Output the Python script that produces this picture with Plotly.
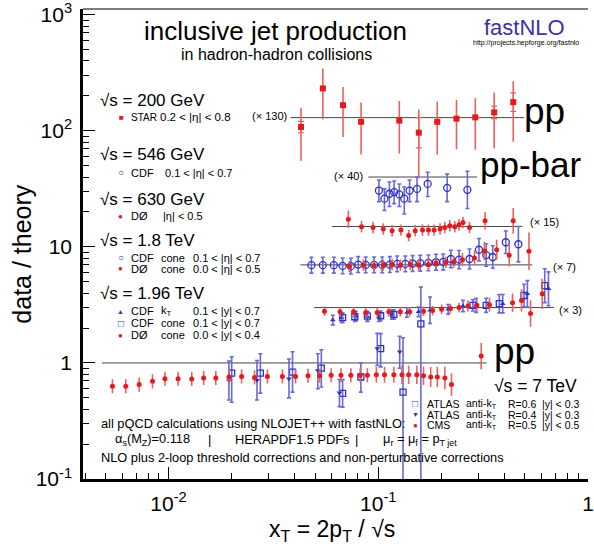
import plotly.graph_objects as go

FONT = "Liberation Sans, Arial, Helvetica, sans-serif"

# ---------------- data (ratio data/theory, unscaled) ----------------
# sqrt(s)=200 GeV STAR (x130)
STAR_x = [0.0428, 0.0544, 0.0679, 0.0828, 0.126, 0.156, 0.191, 0.236, 0.290, 0.357, 0.440]
STAR_r = [0.83, 1.785, 1.28, 0.92, 0.943, 0.742, 0.92, 0.98, 1.006, 1.11, 1.36]
STAR_lo = [0.424, 0.962, 0.681, 0.48, 0.49, 0.30, 0.48, 0.535, 0.53, 0.546, 0.62]
STAR_hi = [1.215, 2.65, 1.84, 1.35, 1.39, 1.17, 1.37, 1.42, 1.47, 1.65, 2.06]
STAR_inner = [1.12, 1.0, 1.0, 1.0, 1.0, 1.35, 1.0, 1.0, 1.0, 1.13, 1.2]

# sqrt(s)=546 GeV CDF (x40)
CDF546_x = [0.1007, 0.107, 0.113, 0.119, 0.126, 0.133, 0.141, 0.153, 0.172, 0.213, 0.266]
CDF546_r = [0.765, 0.651, 0.718, 0.742, 0.708, 0.651, 0.765, 0.79, 0.872, 0.807, 0.776]
CDF546_lo = [0.614, 0.515, 0.557, 0.59, 0.557, 0.48, 0.614, 0.614, 0.68, 0.614, 0.535]
CDF546_hi = [0.943, 0.79, 0.907, 0.925, 0.87, 0.82, 0.943, 1.0, 1.1, 1.06, 1.12]

# sqrt(s)=630 GeV D0 (x15)
D0630_x = [0.0720, 0.0832, 0.0944, 0.1056, 0.1164, 0.1283, 0.1396, 0.150, 0.1625, 0.1734,
           0.1845, 0.197, 0.2077, 0.2193, 0.2316, 0.2427, 0.2535, 0.2723, 0.323, 0.440]
D0630_r = [1.153, 0.995, 0.98, 0.95, 0.92, 0.93, 0.834, 0.92, 0.93, 0.93,
           0.93, 0.95, 0.98, 1.014, 0.995, 1.034, 1.081, 0.98, 1.118, 1.118]
D0630_e = [1.19, 1.12, 1.12, 1.12, 1.12, 1.12, 1.12, 1.12, 1.12, 1.12,
           1.12, 1.12, 1.12, 1.12, 1.12, 1.12, 1.12, 1.12, 1.19, 1.29]

# sqrt(s)=1.8 TeV CDF cone (x7)
CDF18_x = [0.0480, 0.0544, 0.0614, 0.0676, 0.0740, 0.0802, 0.0871, 0.0955, 0.1044, 0.1135,
           0.123, 0.1346, 0.1458, 0.1585, 0.1734, 0.1884, 0.204, 0.2218, 0.2427, 0.2723,
           0.302, 0.327, 0.3515, 0.4055, 0.4656]
CDF18_r = [0.994, 0.994, 0.994, 0.98, 0.975, 1.006, 1.0, 1.0, 1.0, 1.006,
           1.02, 1.02, 1.026, 1.034, 1.04, 1.054, 1.06, 1.124, 1.11, 1.124,
           1.35, 1.215, 1.169, 1.566, 1.506]
CDF18_e = [1.17, 1.17, 1.17, 1.17, 1.17, 1.17, 1.17, 1.17, 1.17, 1.17,
           1.17, 1.17, 1.17, 1.17, 1.17, 1.17, 1.17, 1.19, 1.2, 1.22,
           1.25, 1.25, 1.25, 1.25, 1.42]

# sqrt(s)=1.8 TeV D0 cone (x7)
D018_x = [0.0728, 0.0849, 0.0955, 0.1056, 0.1164, 0.1274, 0.142, 0.1556, 0.1734, 0.1884,
          0.21, 0.229, 0.252, 0.2877, 0.3206, 0.367, 0.421, 0.523]
D018_r = [0.967, 0.994, 0.986, 0.994, 1.006, 0.994, 1.006, 0.994, 1.006, 1.04,
          1.054, 1.06, 1.109, 1.146, 1.32, 1.35, 1.208, 1.31]
D018_e = [1.12, 1.12, 1.12, 1.12, 1.12, 1.12, 1.12, 1.12, 1.12, 1.12,
          1.12, 1.12, 1.14, 1.16, 1.2, 1.22, 1.25, 1.45]

# sqrt(s)=1.96 TeV D0 cone (x3)
D0196_x = [0.0554, 0.0657, 0.0762, 0.0871, 0.0989, 0.1122, 0.1274, 0.1412, 0.1643, 0.1816,
           0.2004, 0.2209, 0.2427, 0.2677, 0.2953, 0.339, 0.4367, 0.482, 0.532, 0.605]
D0196_r = [0.93, 0.92, 0.92, 0.907, 0.907, 0.92, 0.92, 0.92, 0.93, 0.943,
           0.967, 0.981, 1.0, 1.034, 1.046, 1.06, 1.102, 1.153, 0.889, 1.314]
D0196_e = [1.1, 1.1, 1.1, 1.1, 1.1, 1.1, 1.1, 1.1, 1.1, 1.1,
           1.1, 1.1, 1.1, 1.12, 1.12, 1.15, 1.2, 1.25, 1.3, 1.35]

# sqrt(s)=1.96 TeV CDF kT (x3)
CDFKT_x = [0.0607, 0.0669, 0.0781, 0.0887, 0.1007, 0.1164, 0.137, 0.1556, 0.1765, 0.2155,
           0.2535, 0.293, 0.392, 0.514, 0.648]
CDFKT_r = [0.78, 0.818, 0.844, 0.834, 0.834, 0.872, 0.907, 0.92, 0.949, 0.967,
           1.034, 1.046, 1.081, 1.314, 1.45]
CDFKT_e = [1.1, 1.1, 1.1, 1.1, 1.1, 1.1, 1.1, 1.1, 1.3, 1.1,
           1.12, 1.15, 1.2, 1.3, 1.4]

# sqrt(s)=1.96 TeV CDF cone (x3)
CDFC_x = [0.0676, 0.0773, 0.0887, 0.1026, 0.1186, 0.2826, 0.327, 0.3776, 0.4953, 0.622]
CDFC_r = [0.818, 0.834, 0.844, 0.85, 0.872, 1.046, 1.046, 1.081, 1.271, 1.545]
CDFC_e = [1.1, 1.1, 1.1, 1.1, 1.1, 1.12, 1.15, 1.2, 1.25, 1.4]

# sqrt(s)=7 TeV CMS anti-kT R=0.5 (x1)
CMS_x = [0.00540, 0.00625, 0.00724, 0.00838, 0.00961, 0.0111, 0.0129, 0.0147, 0.0168, 0.0194,
         0.0223, 0.0257, 0.0296, 0.0349, 0.0403, 0.0462, 0.0525, 0.0596, 0.0664, 0.0740,
         0.0820, 0.0887, 0.0979, 0.1071, 0.1186, 0.1297, 0.1396, 0.1527, 0.1643, 0.1778,
         0.1912, 0.2077, 0.2234, 0.3096]
CMS_r = [0.63, 0.63, 0.651, 0.694, 0.732, 0.732, 0.728, 0.742, 0.742, 0.757,
         0.765, 0.751, 0.765, 0.765, 0.765, 0.776, 0.776, 0.784, 0.784, 0.784,
         0.784, 0.784, 0.791, 0.791, 0.791, 0.791, 0.791, 0.791, 0.776, 0.757,
         0.757, 0.742, 0.651, 1.146]
CMS_e = [1.15, 1.15, 1.15, 1.15, 1.15, 1.15, 1.15, 1.15, 1.15, 1.15,
         1.15, 1.15, 1.15, 1.15, 1.15, 1.15, 1.15, 1.15, 1.15, 1.15,
         1.15, 1.15, 1.17, 1.17, 1.17, 1.2, 1.2, 1.2, 1.2, 1.22,
         1.22, 1.25, 1.25, 1.3]

# sqrt(s)=7 TeV ATLAS anti-kT R=0.6 (x1)
ATL6_x = [0.0200, 0.0274, 0.0390, 0.0535, 0.0676, 0.0826, 0.1026, 0.1312, 0.1596]
ATL6_r = [0.818, 0.818, 0.834, 0.902, 0.546, 0.757, 1.33, 0.56, 2.17]
ATL6_lo = [0.458, 0.55, 0.56, 0.62, 0.416, 0.56, 0.925, 0.05, 0.05]
ATL6_hi = [1.13, 1.2, 1.25, 1.3, 0.718, 1.0, 1.79, 1.65, 4.5]

# sqrt(s)=7 TeV ATLAS anti-kT R=0.4 (x1)
ATL4_x = [0.0194, 0.0264, 0.0375, 0.0515, 0.0653, 0.0989, 0.1265]
ATL4_r = [0.704, 0.708, 0.732, 0.86, 0.553, 1.33, 1.247]
ATL4_lo = [0.48, 0.48, 0.5, 0.6, 0.42, 0.95, 0.9]
ATL4_hi = [1.04, 1.05, 1.08, 1.2, 0.72, 1.8, 1.7]

# theory reference lines: scale factor and xT extent
LINE_F = [130, 40, 15, 7, 3, 1]
LINE_X0 = [0.0381, 0.0897, 0.0601, 0.0425, 0.0494, 0.00481]
LINE_X1 = [0.497, 0.296, 0.486, 0.542, 0.688, 0.329]

XTICK_VALS = [0.01, 0.1, 1]
XTICK_TEXT = ["10<sup>-2</sup>", "10<sup>-1</sup>", "1"]
YTICK_VALS = [0.1, 1, 10, 100, 1000]
YTICK_TEXT = ["10<sup>-1</sup>", "1", "10", "10<sup>2</sup>", "10<sup>3</sup>"]

RED = "rgb(228,26,28)"
RED_E = "rgb(238,95,95)"
BLUE = "rgb(50,50,190)"
BLUE_E = "rgb(105,105,215)"

fig = go.Figure()

# reference lines
for f, x0, x1 in zip(LINE_F, LINE_X0, LINE_X1):
    fig.add_trace(go.Scatter(x=[x0, x1], y=[f, f], mode="lines",
                             line=dict(color="rgb(70,70,70)", width=1), hoverinfo="skip"))


def series(x, r, lo, hi, factor, symbol, color, ecolor, size, lw=0, cap=0):
    y = [v * factor for v in r]
    up = [(h - v) * factor for h, v in zip(hi, r)]
    dn = [(v - l) * factor for v, l in zip(r, lo)]
    fig.add_trace(go.Scatter(
        x=x, y=y, mode="markers",
        marker=dict(symbol=symbol, color=color, size=size, line=dict(color=color, width=lw)),
        error_y=dict(type="data", symmetric=False, array=up, arrayminus=dn,
                     color=ecolor, thickness=1.6, width=cap)))


def series_e(x, r, e, factor, symbol, color, ecolor, size, lw=0, cap=0):
    lo = [v / k for v, k in zip(r, e)]
    hi = [v * k for v, k in zip(r, e)]
    series(x, r, lo, hi, factor, symbol, color, ecolor, size, lw, cap)


# STAR inner (statistical) error ticks
fig.add_trace(go.Scatter(
    x=STAR_x, y=[v * 130 for v in STAR_r], mode="markers",
    marker=dict(size=1, color="rgba(0,0,0,0)"),
    error_y=dict(type="data", symmetric=False,
                 array=[(v * k - v) * 130 for v, k in zip(STAR_r, STAR_inner)],
                 arrayminus=[(v - v / k) * 130 for v, k in zip(STAR_r, STAR_inner)],
                 color=RED_E, thickness=1.2, width=3)))

series(STAR_x, STAR_r, STAR_lo, STAR_hi, 130, "square", RED, RED_E, 6)
series(CDF546_x, CDF546_r, CDF546_lo, CDF546_hi, 40, "circle-open", BLUE, BLUE_E, 7, 1.3, 2)
series_e(D0630_x, D0630_r, D0630_e, 15, "circle", RED, RED_E, 5)
series_e(CDF18_x, CDF18_r, CDF18_e, 7, "circle-open", BLUE, BLUE_E, 7, 1.3, 2)
series_e(D018_x, D018_r, D018_e, 7, "circle", RED, RED_E, 5)
series_e(CDFKT_x, CDFKT_r, CDFKT_e, 3, "triangle-up", BLUE, BLUE_E, 5, 0, 2)
series_e(CDFC_x, CDFC_r, CDFC_e, 3, "square-open", BLUE, BLUE_E, 6, 1.3, 2)
series_e(D0196_x, D0196_r, D0196_e, 3, "circle", RED, RED_E, 5)
series(ATL6_x, ATL6_r, ATL6_lo, ATL6_hi, 1, "square-open", BLUE, BLUE_E, 6, 1.3, 2)
series(ATL4_x, ATL4_r, ATL4_lo, ATL4_hi, 1, "triangle-down", BLUE, BLUE_E, 5, 0, 2)
series_e(CMS_x, CMS_r, CMS_e, 1, "circle", RED, RED_E, 5)

# ---------------- layout ----------------
L, R, T, B = 83, 594, 5, 479


def A(text, px, py, size, xanchor="left", color="black", angle=0):
    fig.add_annotation(text=text, x=(px - L) / (R - L), y=(B - py) / (B - T),
                       xref="paper", yref="paper", xanchor=xanchor, yanchor="middle",
                       showarrow=False, textangle=angle,
                       font=dict(family=FONT, size=size, color=color))


A("inclusive jet production", 278, 27, 26, "center")
A("in hadron-hadron collisions", 279, 51, 16, "center")
A("fastNLO", 530, 24, 22, "center", color="rgb(60,50,165)")
A("http://projects.hepforge.org/fastnlo", 531, 39, 7, "center")

# left legend
A("√s = 200 GeV", 98, 97, 17)
A("■", 122, 114, 8, "center", RED)
A("STAR", 130, 114, 10)
A("0.2 < |η| < 0.8", 159, 114, 11.5)
A("(× 130)", 252, 113, 11)

A("√s = 546 GeV", 98, 152, 17)
A("○", 121, 170, 10, "center", BLUE)
A("CDF", 130, 170, 11)
A("0.1 < |η| < 0.7", 164, 170, 11)

A("√s = 630 GeV", 98, 197, 17)
A("●", 121, 214, 8, "center", RED)
A("DØ", 130, 214, 11)
A("|η| < 0.5", 162, 214, 11)

A("√s = 1.8 TeV", 98, 238, 17)
A("○", 121, 256, 10, "center", BLUE)
A("CDF", 130, 256, 11)
A("cone", 160, 256, 11)
A("0.1 < |η| < 0.7", 192, 256, 11)
A("●", 121, 267, 8, "center", RED)
A("DØ", 130, 267, 11)
A("cone", 160, 267, 11)
A("0.0 < |η| < 0.5", 192, 267, 11)

A("√s = 1.96 TeV", 98, 292, 17)
A("▲", 121, 310, 7, "center", BLUE)
A("CDF", 130, 310, 11)
A("k<sub>T</sub>", 160, 310, 11)
A("0.1 < |y| < 0.7", 192, 310, 11)
A("□", 121, 322, 10, "center", BLUE)
A("CDF", 130, 322, 11)
A("cone", 160, 322, 11)
A("0.1 < |y| < 0.7", 192, 322, 11)
A("●", 121, 334, 8, "center", RED)
A("DØ", 130, 334, 11)
A("cone", 160, 334, 11)
A("0.0 < |y| < 0.4", 192, 334, 11)

# scale labels
A("(× 40)", 335, 173, 11)
A("(× 15)", 533, 220, 11)
A("(× 7)", 557, 265, 11)
A("(× 3)", 563, 309, 11)

# big labels
A("pp", 527, 108, 37)
A("pp-bar", 483, 162, 35)
A("pp", 497, 350, 37)
A("√s = 7 TeV", 497, 385, 17.5)

# bottom right legend
A("□", 419, 403, 10, "center", BLUE)
A("ATLAS", 429, 403, 10.5)
A("anti-k<sub>T</sub>", 469, 403, 10.5)
A("R=0.6", 511, 403, 10.5)
A("|y| < 0.3", 545, 403, 10.5)
A("▼", 419, 414, 7, "center", BLUE)
A("ATLAS", 429, 414, 10.5)
A("anti-k<sub>T</sub>", 469, 414, 10.5)
A("R=0.4", 511, 414, 10.5)
A("|y| < 0.3", 545, 414, 10.5)
A("●", 419, 425, 8, "center", RED)
A("CMS", 429, 425, 10.5)
A("anti-k<sub>T</sub>", 469, 425, 10.5)
A("R=0.5", 511, 425, 10.5)
A("|y| < 0.5", 545, 425, 10.5)

# bottom notes
A("all pQCD calculations using NLOJET++ with fastNLO:", 99, 423, 12.8)
A("α<sub>s</sub>(M<sub>Z</sub>)=0.118", 113, 439, 12.8)
A("|", 207, 439, 12.8)
A("HERAPDF1.5 PDFs", 235, 439, 12.8)
A("|", 356, 439, 12.8)
A("μ<sub>r</sub> = μ<sub>f</sub> = p<sub>T jet</sub>", 385, 439, 12.8)
A("NLO plus 2-loop threshold corrections and non-perturbative corrections", 99, 457, 12.8)

# axis titles
A("x<sub>T</sub> = 2p<sub>T</sub> / √s", 335, 531, 23, "center")
A("data / theory", 21, 252, 25, "center", angle=-90)

# top frame line
fig.add_shape(type="line", xref="paper", yref="paper", x0=0, x1=1, y0=1, y1=1,
              line=dict(color="rgb(80,80,80)", width=1.5))

xminor = [k * 10 ** e for e in (-3, -2, -1) for k in range(2, 10)]
yminor = [k * 10 ** e for e in (-1, 0, 1, 2) for k in range(2, 10)]

fig.update_layout(
    width=594, height=550,
    margin=dict(l=L, r=594 - R, t=T, b=550 - B),
    paper_bgcolor="white", plot_bgcolor="white",
    showlegend=False,
    xaxis=dict(type="log", range=[-2.408, 0.0], showgrid=False, zeroline=False,
               showline=True, linecolor="black", linewidth=2.5,
               ticks="inside", ticklen=12, tickwidth=1, tickcolor="black",
               tickmode="array", tickvals=XTICK_VALS, ticktext=XTICK_TEXT,
               tickfont=dict(family=FONT, size=21, color="black"),
               ticklabelstandoff=4, ticklabeloverflow="allow",
               minor=dict(ticks="inside", ticklen=6, tickwidth=1, tickcolor="black",
                          tickmode="array", tickvals=xminor, showgrid=False)),
    yaxis=dict(type="log", range=[-1, 3.05], showgrid=False, zeroline=False,
               showline=True, linecolor="black", linewidth=2.5,
               ticks="inside", ticklen=12, tickwidth=1, tickcolor="black",
               tickmode="array", tickvals=YTICK_VALS, ticktext=YTICK_TEXT,
               tickfont=dict(family=FONT, size=21, color="black"),
               ticklabelstandoff=4, ticklabeloverflow="allow",
               minor=dict(ticks="inside", ticklen=6, tickwidth=1, tickcolor="black",
                          tickmode="array", tickvals=yminor, showgrid=False)),
)

fig.write_html("out.html")
